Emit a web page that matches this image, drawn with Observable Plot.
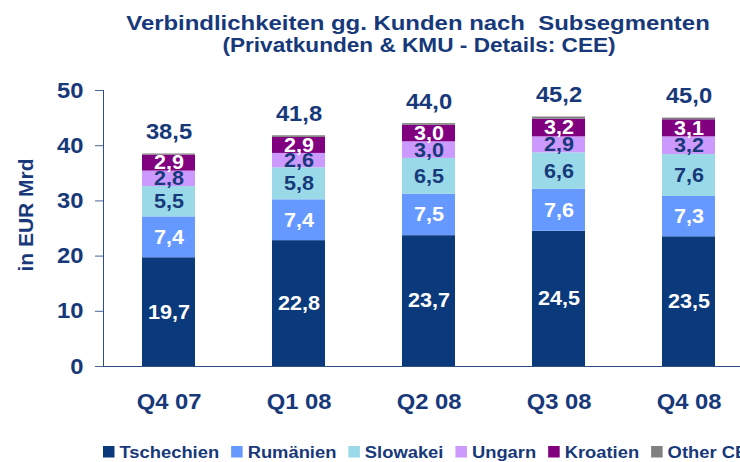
<!DOCTYPE html>
<html><head><meta charset="utf-8">
<script src="https://cdn.jsdelivr.net/npm/d3@7"></script>
<script src="https://cdn.jsdelivr.net/npm/@observablehq/plot@0.6"></script>
<style>
body{margin:0;background:#fff;font-family:"Liberation Sans",Arial,sans-serif;}
#wrap{position:relative;width:740px;height:462px;overflow:hidden;}
#chart{position:absolute;top:60px;left:0;}
#chart svg{max-width:none;}
#overlay{position:absolute;top:0;left:0;}
</style></head><body>
<div id="wrap">
<div id="chart"></div>
<svg id="overlay" width="760" height="462"></svg>
</div>
<script>
const title = "Verbindlichkeiten gg. Kunden nach  Subsegmenten";
const subtitle = "(Privatkunden & KMU - Details: CEE)";
const yLabel = "in EUR Mrd";
const quarters = ["Q4 07","Q1 08","Q2 08","Q3 08","Q4 08"];
const series = ["Tschechien","Rumänien","Slowakei","Ungarn","Kroatien","Other CEE"];
const colors = ["#0b3a7c","#6699ff","#99d9e8","#cc99ff","#800080","#808080"];
const labelColors = ["#ffffff","#ffffff","#17397a","#17397a","#ffffff",null];
const tschechien = [19.7,22.8,23.7,24.5,23.5];
const rumaenien = [7.4,7.4,7.5,7.6,7.3];
const slowakei = [5.5,5.8,6.5,6.6,7.6];
const ungarn = [2.8,2.6,3.0,2.9,3.2];
const kroatien = [2.9,2.9,3.0,3.2,3.1];
const otherCEE = [0.2,0.3,0.3,0.4,0.3];
const totals = [38.5,41.8,44.0,45.2,45.0];
const yTicks = [0,10,20,30,40,50];

const values = [tschechien,rumaenien,slowakei,ungarn,kroatien,otherCEE];
const rows = [];
series.forEach((s,si)=>quarters.forEach((q,qi)=>rows.push({q,s,si,v:values[si][qi]})));
const totalRows = quarters.map((q,i)=>({q,v:totals[i]}));
const fmt = v => d3.format(".1f")(v).replace(".",",");
const navy = "#17397a";
const FONT = "Liberation Sans, Arial, sans-serif";
const STRETCH = 1.08;

const chart = Plot.plot({
  width:760, height:366, marginTop:30, marginBottom:60, marginLeft:103, marginRight:5,
  style:{fontFamily:FONT, fontWeight:"bold", overflow:"visible"},
  x:{domain:quarters, paddingInner:0.59, paddingOuter:0.295, axis:null},
  y:{domain:[0,50], axis:null},
  color:{domain:series, range:colors},
  marks:[
    Plot.barY(rows, {x:"q", y:"v", fill:"s", order:series}),
    Plot.text(rows.filter(d=>d.s!=="Other CEE"), Plot.stackY({x:"q", y:"v", z:"s", order:series, text:d=>fmt(d.v), fill:d=>labelColors[d.si], fontSize:20, fontWeight:"bold"})),
    Plot.text(totalRows, {x:"q", y:"v", text:d=>fmt(d.v), dy:-22, fill:navy, fontSize:22, fontWeight:"bold"}),
    Plot.axisY({ticks:yTicks, tickSize:8, tickPadding:12, fontSize:22, color:navy, stroke:"#4a6494", label:null, tickFormat:d=>d}),
    Plot.frame({anchor:"left", stroke:"#2d4f88"}),
    Plot.ruleY([0], {stroke:"#2d4f88"}),
    Plot.axisX({tickSize:0, tickPadding:27, fontSize:22, color:navy, label:null})
  ]
});
document.getElementById("chart").appendChild(chart);
// slight horizontal stretch of the texts, as in the reference
chart.querySelectorAll("text").forEach(t=>{
  const tr = t.getAttribute("transform");
  if (tr) t.setAttribute("transform", tr + ` scale(${STRETCH},1)`);
  else {
    const x = +t.getAttribute("x")||0, y = +t.getAttribute("y")||0;
    t.removeAttribute("x"); t.removeAttribute("y");
    t.setAttribute("transform", `translate(${x},${y}) scale(${STRETCH},1)`);
  }
});

// titles, y label and legend
const ov = d3.select("#overlay").attr("font-family",FONT).attr("font-weight","bold").attr("fill",navy);
ov.append("text").attr("transform","translate(418,30) scale(1.14,1)").attr("text-anchor","middle")
  .attr("font-size",21).attr("xml:space","preserve").style("white-space","pre").text(title);
ov.append("text").attr("transform","translate(419,52) scale(1.16,1)").attr("text-anchor","middle")
  .attr("font-size",19.5).text(subtitle);
ov.append("text").attr("transform","translate(33,215) rotate(-90)").attr("text-anchor","middle")
  .attr("font-size",21).text(yLabel);
let cx = 103;
series.forEach((s,i)=>{
  ov.append("rect").attr("x",cx).attr("y",446).attr("width",11.5).attr("height",11.5).attr("fill",colors[i]);
  const t = ov.append("text").attr("transform",`translate(${cx+16.5},458) scale(${STRETCH},1)`)
    .attr("font-size",17).text(s);
  cx += 16.5 + t.node().getComputedTextLength()*STRETCH + 12;
});
</script>
</body></html>
